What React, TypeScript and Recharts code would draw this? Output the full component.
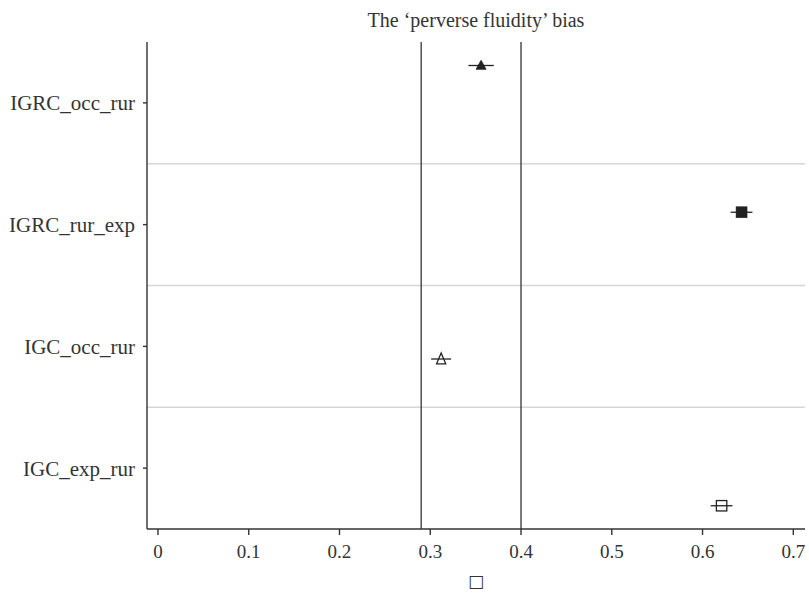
import React from 'react';
import { ComposedChart, Bar, XAxis, YAxis, ReferenceLine, ErrorBar } from 'recharts';

const categories = ['IGRC_occ_rur', 'IGRC_rur_exp', 'IGC_occ_rur', 'IGC_exp_rur'];
const filledTriangle: (number | null)[] = [0.356, null, null, null];
const filledTriangleErr: (number | null)[] = [0.014, null, null, null];
const filledSquare: (number | null)[] = [null, 0.643, null, null];
const filledSquareErr: (number | null)[] = [null, 0.012, null, null];
const openTriangle: (number | null)[] = [null, null, 0.312, null];
const openTriangleErr: (number | null)[] = [null, null, 0.011, null];
const openSquare: (number | null)[] = [null, null, null, 0.621];
const openSquareErr: (number | null)[] = [null, null, null, 0.012];

const xTicks = [0, 0.1, 0.2, 0.3, 0.4, 0.5, 0.6, 0.7];
const xDomain = [-0.0121, 0.7129];
const referenceX = [0.29, 0.4];
const separatorCategories = categories.slice(1);
const title = 'The \u2018perverse fluidity\u2019 bias';
const xLabel = '\u25A1';

const data = categories.map((cat, i) => ({
  cat,
  s1: filledTriangle[i],
  e1: filledTriangleErr[i],
  s2: filledSquare[i],
  e2: filledSquareErr[i],
  s3: openTriangle[i],
  e3: openTriangleErr[i],
  s4: openSquare[i],
  e4: openSquareErr[i],
}));

const FONT = '"Liberation Serif", "DejaVu Serif", serif';
const INK = '#222';

const makeShape = (kind: string, key: string) => (props: any) => {
  const { x, y, width, height, payload } = props;
  if (!payload || payload[key] == null) return <g />;
  const cx = x + width;
  const cy = y + height / 2;
  if (kind === 'triFilled') {
    return (
      <polygon
        points={`${cx},${cy - 5.2} ${cx - 5},${cy + 3.8} ${cx + 5},${cy + 3.8}`}
        fill={INK}
        stroke={INK}
        strokeWidth={0.8}
      />
    );
  }
  if (kind === 'sqFilled') {
    return <rect x={cx - 5.5} y={cy - 5.5} width={11} height={11} fill={INK} stroke={INK} strokeWidth={0.5} />;
  }
  if (kind === 'triOpen') {
    return (
      <polygon
        points={`${cx},${cy - 6} ${cx - 4.6},${cy + 4.8} ${cx + 4.6},${cy + 4.8}`}
        fill="none"
        stroke={INK}
        strokeWidth={1.3}
      />
    );
  }
  return <rect x={cx - 5.2} y={cy - 5.2} width={10.4} height={10.4} fill="none" stroke={INK} strokeWidth={1.3} />;
};

export default function App() {
  return (
    <div style={{ position: 'absolute', left: 0, top: 0, width: 809, height: 593, background: '#fff' }}>
      <ComposedChart
        width={809}
        height={593}
        data={data}
        layout="vertical"
        margin={{ top: 42, right: 4, bottom: 0, left: 0 }}
        barGap={0}
        barSize={25}
      >
        <XAxis
          type="number"
          domain={xDomain}
          allowDataOverflow
          ticks={xTicks}
          tickFormatter={(v: number) => String(v)}
          height={64}
          tickSize={6}
          tickMargin={10}
          stroke="#333"
          strokeWidth={1.4}
          tick={{ fill: '#333', fontSize: 19, fontFamily: FONT }}
          label={{ value: xLabel, position: 'insideBottom', offset: 6, fill: '#333', fontSize: 17, fontFamily: '"DejaVu Sans", sans-serif' }}
        />
        <YAxis
          type="category"
          dataKey="cat"
          width={147}
          tickSize={4}
          tickMargin={8}
          stroke="#333"
          strokeWidth={1.4}
          tick={{ fill: '#333', fontSize: 21, fontFamily: FONT }}
        />
        {separatorCategories.map((c) => (
          <ReferenceLine key={'h' + c} y={c} position="start" stroke="#d6d6d6" strokeWidth={1.5} />
        ))}
        {referenceX.map((v) => (
          <ReferenceLine key={'v' + v} x={v} stroke="#333" strokeWidth={1.3} />
        ))}
        <Bar dataKey="s1" isAnimationActive={false} shape={makeShape('triFilled', 's1')}>
          <ErrorBar dataKey="e1" direction="x" width={0} stroke={INK} strokeWidth={1.3} />
        </Bar>
        <Bar dataKey="s2" isAnimationActive={false} shape={makeShape('sqFilled', 's2')}>
          <ErrorBar dataKey="e2" direction="x" width={0} stroke={INK} strokeWidth={1.3} />
        </Bar>
        <Bar dataKey="s3" isAnimationActive={false} shape={makeShape('triOpen', 's3')}>
          <ErrorBar dataKey="e3" direction="x" width={0} stroke={INK} strokeWidth={1.3} />
        </Bar>
        <Bar dataKey="s4" isAnimationActive={false} shape={makeShape('sqOpen', 's4')}>
          <ErrorBar dataKey="e4" direction="x" width={0} stroke={INK} strokeWidth={1.3} />
        </Bar>
      </ComposedChart>
      <svg width={809} height={40} style={{ position: 'absolute', left: 0, top: 0 }}>
        <text x={476} y={26.5} textAnchor="middle" fontSize={20} fontFamily={FONT} fill="#333">
          {title}
        </text>
      </svg>
    </div>
  );
}
